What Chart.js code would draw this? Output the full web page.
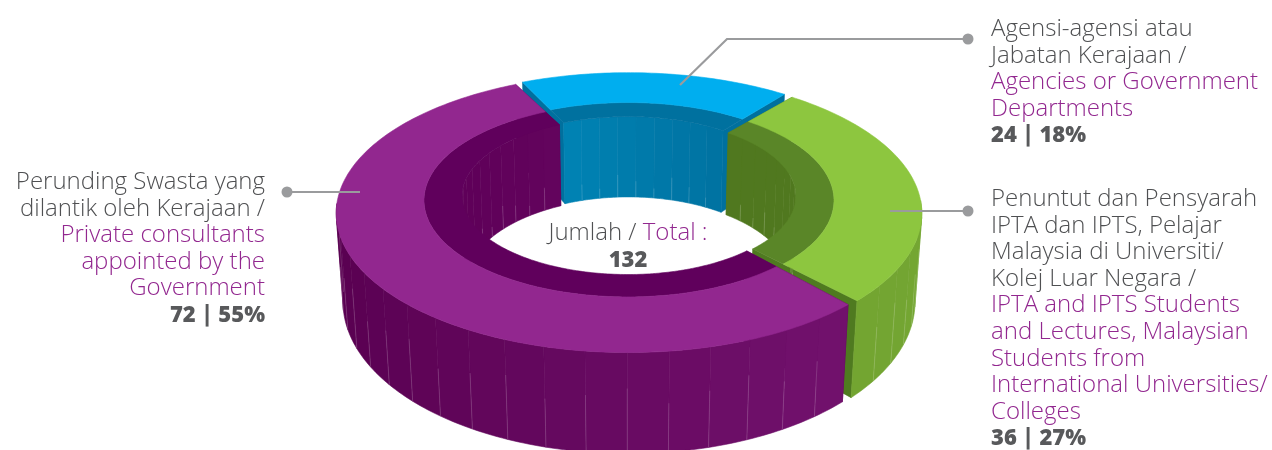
<!DOCTYPE html>
<html>
<head>
<meta charset="utf-8">
<script src="https://cdn.jsdelivr.net/npm/chart.js@4"></script>
<style>
  html, body { margin: 0; padding: 0; background: #fff; }
  #wrap { position: relative; width: 1272px; height: 450px; overflow: hidden; }
  canvas { position: absolute; left: 0; top: 0; }
  .label { position: absolute; font-family: "Open Sans", sans-serif; font-weight: 300; font-size: 24px; line-height: 26.6px; color: #4f5052; white-space: nowrap; }
  .label .en { color: #92278f; }
  .label b { font-weight: 800; font-size: 22px; color: #58595b; }
</style>
</head>
<body>
<div id="wrap">
  <canvas id="ringChart" width="1272" height="450"></canvas>
  <div class="label" id="label0" style="left:991px; top:14px"></div>
  <div class="label" id="label1" style="left:991px; top:184px"></div>
  <div class="label" id="label2" style="right:1007px; top:167px; text-align:right"></div>
  <div class="label" style="left:428px; width:400px; top:218px; text-align:center">Jumlah / <span class="en">Total :</span><br><b>132</b></div>
</div>
<script>
// Data
const categories = ['Agencies or Government Departments', 'IPTA and IPTS Students and Lectures', 'Private consultants'];
const values = [24, 36, 72];
const shares = [18, 27, 55];
const malayLines = [
    ['Agensi-agensi atau', 'Jabatan Kerajaan /'],
    ['Penuntut dan Pensyarah', 'IPTA dan IPTS, Pelajar', 'Malaysia di Universiti/', 'Kolej Luar Negara /'],
    ['Perunding Swasta yang', 'dilantik oleh Kerajaan /']
];
const englishLines = [
    ['Agencies or Government', 'Departments'],
    ['IPTA and IPTS Students', 'and Lectures, Malaysian', 'Students from', 'International Universities/', 'Colleges'],
    ['Private consultants', 'appointed by the', 'Government']
];

// Colours, one per slice
const topColors = ['#00aeef', '#8dc63f', '#92278f'];
const ledgeColors = ['#00719f', '#5a8628', '#60005c'];
const capColors = ['#00709e', '#4f7a20', '#60005c'];
const innerWallColors = [['#008cbe', '#006c9a'], ['#50781f', '#50781f'], ['#5f0059', '#6e1069']];
const outerWallColors = [['#00709e', '#00709e'], ['#6a9c2d', '#74a632'], ['#590051', '#771573']];

// Fake camera: the flat ring from Chart.js is tilted and pushed into perspective
const PERSPECTIVE = 0.18, SINK = 0.023, SCALE_X = 0.983, SCALE_Y = 0.462, DEPTH = 89;
const LEDGE = 0.705;
const STEP = Math.PI / 180, FACET = 7 * Math.PI / 180;
const START_GAP = [1.6 * STEP, 1.6 * STEP, 1.8 * STEP];

function project(s, r, a, z) {
    const X = r * Math.cos(a) + s.off * Math.cos(s.mid);
    const Y = r * Math.sin(a) + s.off * Math.sin(s.mid);
    const w = 1 - PERSPECTIVE * Y / s.R + SINK * z;
    return [s.x + SCALE_X * X / w, s.y + (SCALE_Y * Y + DEPTH * z) / w];
}

function arcPoints(s, r, from, to, z) {
    const pts = [];
    const n = Math.max(1, Math.ceil(Math.abs(to - from) / STEP));
    for (let i = 0; i <= n; i++) pts.push(project(s, r, from + (to - from) * i / n, z));
    return pts;
}

function fillPoly(ctx, pts, color) {
    ctx.beginPath();
    pts.forEach((p, i) => i ? ctx.lineTo(p[0], p[1]) : ctx.moveTo(p[0], p[1]));
    ctx.closePath();
    ctx.fillStyle = color;
    ctx.strokeStyle = color;
    ctx.lineWidth = 0.6;
    ctx.fill();
    ctx.stroke();
}

function mix(pair, t) {
    const c = pair.map(h => [1, 3, 5].map(i => parseInt(h.substr(i, 2), 16)));
    return 'rgb(' + c[0].map((v, i) => Math.round(v + (c[1][i] - v) * t)).join(',') + ')';
}

function drawWall(ctx, s, r, pair, seamFrom, keep) {
    const facets = Math.max(1, Math.round((s.end - s.start) / FACET));
    const size = (s.end - s.start) / facets;
    for (let i = 0; i < facets; i++) {
        const a0 = s.start + i * size, a1 = a0 + size;
        if (!keep((a0 + a1) / 2)) continue;
        const t = (Math.cos((a0 + a1) / 2) + 1) / 2;
        fillPoly(ctx, arcPoints(s, r, a0, a1, 0).concat(arcPoints(s, r, a1, a0, 1)), mix(pair, t));
    }
    // thin light seams between the facets, as in the original artwork
    ctx.strokeStyle = 'rgba(255,255,255,0.2)';
    ctx.lineWidth = 0.8;
    for (let i = 1; i < facets; i++) {
        const a = s.start + i * size;
        if (!keep(a)) continue;
        const p0 = project(s, r, a, seamFrom + (i % 3) * 0.08), p1 = project(s, r, a, 1);
        ctx.beginPath();
        ctx.moveTo(p0[0], p0[1]);
        ctx.lineTo(p1[0], p1[1]);
        ctx.stroke();
    }
}

const ring3d = {
    id: 'ring3d',
    beforeDatasetDraw(chart) {
        const ctx = chart.ctx;
        chart.getDatasetMeta(0).data.forEach((arc, i) => {
            const s = {
                x: arc.x, y: arc.y, R: arc.outerRadius,
                start: arc.startAngle + START_GAP[i], end: arc.endAngle,
                mid: (arc.startAngle + arc.endAngle) / 2, off: arc.options.offset || 0
            };
            const R = arc.outerRadius, r = arc.innerRadius, ledge = R * LEDGE;
            ctx.save();
            // end caps
            [s.start, s.end].forEach(a => {
                fillPoly(ctx, [project(s, R, a, 0), project(s, r, a, 0), project(s, r, a, 1), project(s, R, a, 1)], capColors[i]);
            });
            // inside wall, only its far part can be seen
            drawWall(ctx, s, r, innerWallColors[i], 0.72, a => Math.sin(a) < 0.3);
            // outside wall, only its near part can be seen
            drawWall(ctx, s, R, outerWallColors[i], 0.35, a => Math.sin(a) > 0.1);
            // flat top: dark ledge then the bright band
            fillPoly(ctx, arcPoints(s, ledge, s.start, s.end, 0).concat(arcPoints(s, r, s.end, s.start, 0)), ledgeColors[i]);
            fillPoly(ctx, arcPoints(s, R, s.start, s.end, 0).concat(arcPoints(s, ledge, s.end, s.start, 0)), topColors[i]);
            ctx.restore();
        });
        return false;
    },
    afterDraw(chart) {
        // leader lines
        const ctx = chart.ctx;
        const leaders = [
            [[680, 85], [727, 39], [968, 39]],
            [[890, 211], [968, 211]],
            [[360, 192], [287, 192]]
        ];
        ctx.save();
        ctx.strokeStyle = '#9a9b9d';
        ctx.fillStyle = '#9a9b9d';
        ctx.lineWidth = 2.2;
        leaders.forEach(line => {
            ctx.beginPath();
            line.forEach((p, i) => i ? ctx.lineTo(p[0], p[1]) : ctx.moveTo(p[0], p[1]));
            ctx.stroke();
            const end = line[line.length - 1];
            ctx.beginPath();
            ctx.arc(end[0], end[1], 5.5, 0, Math.PI * 2);
            ctx.fill();
        });
        ctx.restore();
    }
};

new Chart(document.getElementById('ringChart').getContext('2d'), {
    type: 'doughnut',
    data: {
        labels: categories,
        datasets: [{
            data: values,
            backgroundColor: topColors,
            borderWidth: 0,
            offset: [3, 2, 0]
        }]
    },
    options: {
        responsive: false,
        animation: false,
        rotation: -27,
        radius: 292,
        cutout: '57.5%',
        clip: false,
        layout: { padding: { right: 16, bottom: 74 } },
        plugins: { legend: { display: false }, tooltip: { enabled: false } }
    },
    plugins: [ring3d]
});

// Text blocks
categories.forEach((name, i) => {
    document.getElementById('label' + i).innerHTML =
        malayLines[i].join('<br>') + '<br><span class="en">' + englishLines[i].join('<br>') + '</span><br><b>' + values[i] + ' | ' + shares[i] + '%</b>';
});
</script>
</body>
</html>
